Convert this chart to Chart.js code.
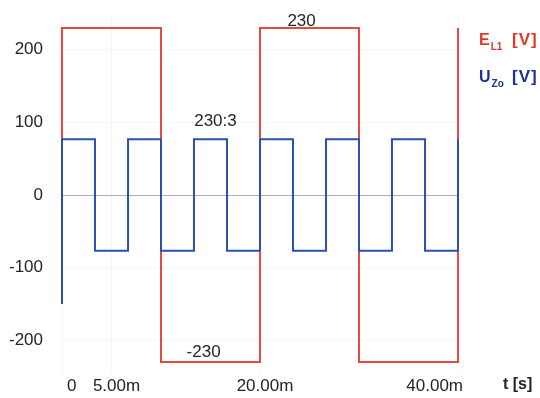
<!DOCTYPE html>
<html>
<head>
<meta charset="utf-8">
<script src="https://cdn.jsdelivr.net/npm/chart.js@4"></script>
<style>
  html, body { margin: 0; padding: 0; background: #fff; }
  #wrap { width: 540px; height: 398px; }
</style>
</head>
<body>
<div id="wrap"><canvas id="scope" width="540" height="398"></canvas></div>
<script>
// time in ms, values in V
const redTimes  = [0, 0, 10, 20, 30, 40];
const redValues = [0, 230, -230, 230, -230, 230];

const blueTimes  = [0, 0, 3.33, 6.67, 10, 13.33, 16.67, 20, 23.33, 26.67, 30, 33.33, 36.67, 40];
const blueValues = [-150, 76.7, -76.7, 76.7, -76.7, 76.7, -76.7, 76.7, -76.7, 76.7, -76.7, 76.7, -76.7, 76.7];

const xTicks = [0, 5, 20, 40];
const xTickLabels = ['0', '5.00m', '20.00m', '40.00m'];
const yTicks = [-200, -100, 0, 100, 200];

const notes = [
  { t: 24.2, v: 239, text: '230' },
  { t: 15.5, v: 101, text: '230:3' },
  { t: 14.3, v: -216, text: '-230' }
];

const FONT = '"Liberation Sans", Arial, sans-serif';
const C = {
  red: '#e5493f',
  blue: '#2b4fb2',
  redText: '#e2372b',
  blueText: '#1d3190',
  text: '#222428',
  grid: 'rgba(0, 0, 0, 0.035)',
  zero: 'rgba(130, 140, 160, 0.7)'
};

const toPoints = (ts, vs) => ts.map((t, i) => ({ x: t, y: vs[i] }));

// annotation texts, legend with subscripts, axis unit
const overlay = {
  id: 'overlay',
  afterDatasetsDraw(chart) {
    const { ctx, scales: { x, y } } = chart;
    ctx.save();
    ctx.font = '17px ' + FONT;
    ctx.fillStyle = C.text;
    ctx.textAlign = 'center';
    ctx.textBaseline = 'middle';
    notes.forEach(n => ctx.fillText(n.text, x.getPixelForValue(n.t), y.getPixelForValue(n.v)));

    const sub = (main, subText, unit, color, py) => {
      ctx.fillStyle = color;
      ctx.textAlign = 'left';
      ctx.textBaseline = 'alphabetic';
      ctx.font = 'bold 16px ' + FONT;
      ctx.fillText(main, 479, py);
      const sx = 479 + ctx.measureText(main).width + 1;
      ctx.font = 'bold 10px ' + FONT;
      ctx.fillText(subText, sx, py + 5);
      ctx.font = 'bold 17px ' + FONT;
      ctx.letterSpacing = '1px';
      ctx.fillText(unit, 512, py);
      ctx.letterSpacing = '0px';
    };
    sub('E', 'L1', '[V]', C.redText, 45);
    sub('U', 'Zo', '[V]', C.blueText, 82);

    ctx.fillStyle = C.text;
    ctx.font = 'bold 16px ' + FONT;
    ctx.textAlign = 'left';
    ctx.textBaseline = 'middle';
    ctx.fillText('t [s]', 503, 385);
    ctx.restore();
  }
};

new Chart(document.getElementById('scope').getContext('2d'), {
  type: 'line',
  data: {
    datasets: [
      {
        label: 'U_Zo [V]', data: toPoints(blueTimes, blueValues),
        borderColor: C.blue, borderWidth: 2, pointRadius: 0,
        stepped: 'before', fill: false, order: 0, clip: 6
      },
      {
        label: 'E_L1 [V]', data: toPoints(redTimes, redValues),
        borderColor: C.red, borderWidth: 2, pointRadius: 0,
        stepped: 'before', fill: false, order: 1, clip: 6
      }
    ]
  },
  options: {
    responsive: false, animation: false,
    layout: { padding: { top: 17, right: 82, left: 0, bottom: 0 } },
    plugins: { legend: { display: false }, tooltip: { enabled: false } },
    scales: {
      x: {
        type: 'linear', min: 0, max: 40,
        afterBuildTicks: s => { s.ticks = xTicks.map(v => ({ value: v })); },
        afterFit: s => { s.height = 25; s.paddingLeft = 0; s.paddingRight = 0; },
        border: { display: false },
        grid: { color: C.grid, drawTicks: false },
        ticks: {
          color: C.text, font: { size: 17, family: FONT }, padding: 3,
          align: 'inner', labelOffset: 5, maxRotation: 0, autoSkip: false,
          callback: v => xTickLabels[xTicks.indexOf(v)]
        }
      },
      y: {
        min: -245, max: 245,
        afterBuildTicks: s => { s.ticks = yTicks.map(v => ({ value: v })); },
        afterFit: s => { s.width = 62; s.paddingTop = 0; s.paddingBottom = 0; },
        border: { display: false },
        grid: { color: c => (c.tick && c.tick.value === 0 ? C.zero : C.grid), drawTicks: false },
        ticks: { color: C.text, font: { size: 17, family: FONT }, padding: 19 }
      }
    }
  },
  plugins: [overlay]
});
</script>
</body>
</html>
